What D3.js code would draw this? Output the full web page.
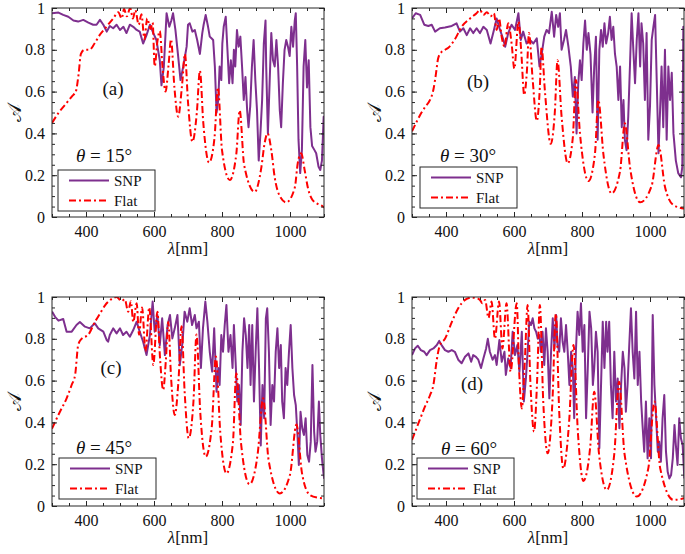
<!DOCTYPE html>
<html>
<head>
<meta charset="utf-8">
<script src="https://cdn.jsdelivr.net/npm/d3@7"></script>
<style>
html,body{margin:0;padding:0;background:#fff;}
svg{display:block;}
</style>
</head>
<body>
<svg id="chart" width="685" height="554"></svg>
<script>
// ---------- data ----------
const lambdaTicks = [400, 600, 800, 1000];
const lambdaTickLabels = ["400", "600", "800", "1000"];
const absTicks = [0, 0.2, 0.4, 0.6, 0.8, 1];
const absTickLabels = ["0", "0.2", "0.4", "0.6", "0.8", "1"];
const angles = ["15", "30", "45", "60"];
const panelLetters = ["(a)", "(b)", "(c)", "(d)"];
const seriesNames = ["SNP", "Flat"];

// theta = 15
const snpA = [[300,0.975],[319,0.978],[333,0.967],[348,0.958],[363,0.94],[377,0.935],[392,0.943],[407,0.93],[421,0.92],[431,0.92],[441,0.943],[451,0.92],[461,0.887],[470,0.914],[480,0.903],[490,0.92],[500,0.895],[510,0.91],[519,0.88],[529,0.92],[539,0.91],[549,0.895],[558,0.887],[568,0.83],[578,0.87],[588,0.92],[598,0.88],[607,0.847],[617,0.75],[622,0.63],[629,0.72],[637,0.975],[645,0.91],[651,0.94],[656,0.975],[663,0.895],[671,0.77],[678,0.655],[686,0.72],[696,0.815],[700,0.92],[705,0.927],[713,0.887],[720,0.895],[727,0.847],[735,0.78],[742,0.88],[746,0.92],[752,0.967],[759,0.91],[764,0.863],[769,0.855],[774,0.847],[779,0.72],[784,0.50],[789,0.56],[793,0.72],[798,0.655],[801,0.83],[805,0.91],[811,0.958],[816,0.80],[821,0.64],[826,0.75],[831,0.64],[835,0.80],[839,0.72],[844,0.895],[849,0.815],[854,0.863],[859,0.72],[864,0.56],[869,0.67],[874,0.51],[878,0.43],[883,0.53],[888,0.72],[893,0.847],[898,0.655],[903,0.51],[908,0.27],[913,0.40],[918,0.56],[923,0.83],[928,0.94],[930,0.72],[935,0.40],[940,0.64],[945,0.88],[950,0.75],[955,0.72],[960,0.847],[965,0.72],[970,0.51],[974,0.43],[979,0.64],[984,0.80],[989,0.847],[994,0.815],[999,0.77],[1004,0.91],[1009,0.815],[1014,0.94],[1017,0.975],[1021,0.72],[1025,0.37],[1030,0.21],[1035,0.32],[1040,0.72],[1045,0.847],[1050,0.62],[1055,0.75],[1060,0.43],[1065,0.34],[1072,0.32],[1077,0.305],[1084,0.24],[1089,0.225],[1094,0.27],[1099,0.48],[1101,0.46]];
const flatA = [[300,0.45],[320,0.50],[340,0.54],[360,0.58],[370,0.60],[378,0.68],[385,0.78],[395,0.80],[410,0.80],[425,0.83],[440,0.87],[460,0.91],[480,0.95],[495,0.98],[505,0.95],[512,0.995],[520,0.96],[530,1.0],[538,0.95],[545,0.99],[555,0.92],[563,0.97],[572,0.85],[580,0.95],[590,0.90],[596,0.93],[602,0.72],[610,0.84],[617,0.89],[625,0.72],[634,0.60],[643,0.73],[650,0.85],[660,0.62],[671,0.48],[683,0.64],[691,0.78],[700,0.55],[713,0.36],[726,0.50],[735,0.70],[745,0.45],[762,0.26],[778,0.38],[788,0.62],[800,0.32],[823,0.177],[842,0.30],[852,0.51],[865,0.25],[896,0.12],[916,0.24],[925,0.35],[934,0.40],[945,0.32],[955,0.19],[970,0.10],[989,0.07],[1014,0.14],[1023,0.26],[1033,0.305],[1043,0.225],[1053,0.137],[1067,0.08],[1097,0.05],[1101,0.045]];

// theta = 30
const snpB = [[300,0.95],[311,0.975],[324,0.967],[336,0.92],[348,0.914],[358,0.92],[368,0.887],[382,0.903],[397,0.907],[417,0.914],[431,0.927],[441,0.887],[451,0.903],[461,0.87],[471,0.903],[480,0.88],[490,0.903],[500,0.88],[510,0.91],[520,0.895],[531,0.83],[541,0.895],[549,0.95],[559,0.895],[569,0.847],[574,0.815],[583,0.88],[593,0.92],[603,0.895],[613,0.975],[620,0.847],[627,0.887],[637,0.83],[647,0.847],[657,0.83],[667,0.855],[675,0.72],[681,0.775],[689,0.863],[696,0.895],[703,0.88],[711,0.982],[718,0.863],[724,0.967],[730,0.91],[735,0.975],[740,0.80],[747,0.847],[753,0.895],[760,0.815],[767,0.72],[773,0.576],[779,0.67],[784,0.40],[789,0.64],[794,0.75],[799,0.655],[804,0.83],[809,0.94],[814,0.80],[819,0.88],[825,0.78],[831,0.50],[836,0.72],[841,0.863],[846,0.37],[851,0.80],[856,0.895],[861,0.815],[866,0.927],[871,0.83],[877,0.88],[882,0.958],[887,0.847],[892,0.91],[897,0.78],[902,0.72],[907,0.56],[912,0.72],[917,0.43],[922,0.56],[926,0.37],[931,0.32],[936,0.48],[941,0.72],[946,0.975],[951,0.80],[956,0.64],[961,0.847],[966,0.975],[971,0.72],[975,0.927],[980,0.83],[985,0.56],[990,0.88],[995,0.37],[1000,0.53],[1005,0.847],[1010,0.91],[1015,0.967],[1020,0.64],[1025,0.305],[1029,0.48],[1034,0.72],[1039,0.43],[1044,0.80],[1049,0.37],[1054,0.72],[1059,0.56],[1064,0.69],[1069,0.40],[1076,0.27],[1083,0.21],[1091,0.19],[1095,0.24],[1098,0.91],[1101,0.88]];
const flatB = [[300,0.41],[315,0.46],[328,0.50],[340,0.53],[353,0.56],[363,0.61],[370,0.68],[377,0.76],[387,0.79],[397,0.80],[407,0.81],[426,0.85],[446,0.91],[471,0.95],[490,0.975],[500,0.99],[510,0.967],[520,0.98],[531,0.96],[541,0.975],[549,0.895],[556,0.95],[564,0.86],[572,0.815],[583,0.927],[593,0.83],[601,0.71],[613,0.935],[621,0.80],[630,0.584],[638,0.70],[644,0.88],[655,0.655],[667,0.46],[676,0.62],[681,0.815],[691,0.60],[708,0.35],[720,0.50],[728,0.75],[740,0.48],[758,0.257],[773,0.38],[782,0.655],[794,0.40],[819,0.172],[838,0.30],[848,0.56],[863,0.30],[887,0.113],[912,0.22],[926,0.448],[941,0.24],[971,0.07],[1005,0.15],[1025,0.345],[1044,0.145],[1069,0.057],[1101,0.04]];

// theta = 45
const snpC = [[300,0.93],[309,0.905],[319,0.887],[333,0.895],[343,0.834],[358,0.834],[372,0.866],[382,0.88],[397,0.858],[411,0.85],[426,0.874],[436,0.85],[451,0.834],[461,0.794],[465,0.786],[470,0.818],[480,0.85],[490,0.826],[500,0.85],[509,0.818],[519,0.834],[529,0.81],[539,0.842],[549,0.882],[558,0.834],[568,0.786],[578,0.722],[588,0.818],[596,0.978],[602,0.834],[610,0.914],[617,0.77],[624,0.898],[632,0.722],[640,0.866],[647,0.914],[654,0.802],[661,0.85],[669,0.914],[676,0.675],[684,0.786],[690,0.93],[698,0.882],[705,0.946],[712,0.866],[720,0.914],[725,0.85],[732,0.882],[738,0.66],[744,0.85],[751,0.978],[757,0.882],[764,0.738],[771,0.643],[777,0.85],[784,0.547],[789,0.66],[793,0.579],[798,0.818],[803,0.738],[808,0.866],[813,0.962],[819,0.738],[825,0.818],[831,0.66],[835,0.866],[840,0.69],[845,0.50],[850,0.579],[855,0.388],[860,0.738],[865,0.898],[870,0.818],[875,0.66],[880,0.866],[884,0.579],[889,0.866],[894,0.50],[899,0.738],[904,0.946],[909,0.66],[914,0.29],[919,0.579],[924,0.42],[929,0.898],[933,0.946],[938,0.738],[943,0.388],[948,0.579],[953,0.50],[958,0.738],[963,0.85],[968,0.66],[973,0.77],[977,0.50],[982,0.42],[987,0.66],[992,0.579],[997,0.738],[1002,0.866],[1007,0.66],[1012,0.531],[1017,0.483],[1022,0.34],[1026,0.196],[1031,0.451],[1036,0.372],[1041,0.34],[1046,0.42],[1051,0.244],[1056,0.212],[1061,0.308],[1066,0.675],[1071,0.356],[1075,0.26],[1080,0.308],[1085,0.50],[1089,0.34],[1094,0.228],[1099,0.148],[1101,0.13]];
const flatC = [[300,0.37],[323,0.45],[343,0.515],[358,0.58],[368,0.627],[377,0.77],[387,0.80],[407,0.82],[426,0.88],[441,0.92],[456,0.96],[475,0.99],[490,1.0],[505,0.98],[514,0.99],[524,0.93],[532,0.98],[539,0.88],[549,0.97],[556,0.82],[565,0.95],[575,0.74],[586,0.95],[598,0.675],[610,0.93],[618,0.70],[627,0.555],[635,0.70],[642,0.88],[650,0.62],[661,0.435],[672,0.60],[681,0.86],[690,0.55],[702,0.324],[716,0.50],[725,0.82],[736,0.45],[752,0.236],[770,0.38],[782,0.715],[795,0.35],[813,0.156],[832,0.30],[842,0.635],[856,0.30],[881,0.104],[905,0.25],[921,0.515],[937,0.22],[970,0.06],[1000,0.15],[1019,0.39],[1035,0.16],[1058,0.053],[1080,0.04],[1101,0.037]];

// theta = 60
const snpD = [[300,0.722],[309,0.754],[317,0.767],[326,0.746],[336,0.738],[343,0.722],[353,0.746],[363,0.754],[373,0.77],[380,0.79],[387,0.77],[397,0.746],[407,0.738],[417,0.746],[426,0.738],[436,0.70],[446,0.683],[456,0.714],[466,0.73],[474,0.69],[480,0.722],[488,0.714],[495,0.70],[503,0.66],[510,0.706],[518,0.754],[523,0.80],[529,0.738],[537,0.70],[544,0.722],[549,0.675],[557,0.794],[564,0.69],[572,0.738],[576,0.627],[583,0.706],[590,0.66],[596,0.834],[603,0.722],[610,0.77],[616,0.643],[623,0.834],[629,0.50],[635,0.61],[640,0.738],[645,0.882],[650,0.866],[655,0.898],[660,0.85],[665,0.834],[670,0.80],[675,0.818],[679,0.738],[684,0.834],[689,0.675],[694,0.85],[699,0.738],[704,0.515],[709,0.738],[714,0.898],[719,0.754],[724,0.914],[728,0.77],[733,0.738],[738,0.898],[743,0.786],[748,0.738],[753,0.866],[758,0.738],[763,0.579],[768,0.738],[773,0.66],[777,0.42],[782,0.738],[787,0.93],[792,0.818],[797,0.97],[802,0.738],[807,0.866],[812,0.42],[817,0.66],[822,0.93],[827,0.85],[832,0.579],[836,0.66],[841,0.834],[846,0.738],[851,0.276],[856,0.579],[861,0.882],[866,0.66],[871,0.882],[875,0.738],[880,0.882],[885,0.579],[890,0.42],[895,0.738],[900,0.50],[905,0.61],[910,0.372],[915,0.579],[920,0.738],[925,0.66],[929,0.451],[934,0.579],[939,0.77],[944,0.946],[949,0.738],[954,0.61],[959,0.93],[964,0.579],[969,0.738],[974,0.50],[978,0.388],[983,0.26],[988,0.50],[993,0.228],[998,0.42],[1003,0.228],[1008,0.914],[1013,0.579],[1018,0.42],[1023,0.26],[1027,0.308],[1032,0.212],[1037,0.42],[1042,0.531],[1047,0.26],[1052,0.164],[1057,0.132],[1062,0.148],[1067,0.228],[1072,0.388],[1076,0.292],[1081,0.196],[1086,0.42],[1091,0.324],[1096,0.292],[1101,0.132]];
const flatD = [[300,0.316],[319,0.396],[338,0.475],[353,0.53],[363,0.58],[373,0.70],[382,0.77],[397,0.80],[417,0.88],[436,0.946],[456,0.986],[475,0.997],[490,0.994],[500,0.986],[507,0.97],[515,0.986],[525,0.90],[534,0.978],[544,0.80],[556,0.978],[566,0.754],[578,0.97],[590,0.643],[608,0.97],[615,0.65],[623,0.467],[632,0.70],[640,0.962],[648,0.60],[659,0.356],[668,0.60],[676,0.962],[686,0.50],[699,0.252],[713,0.50],[723,0.92],[733,0.45],[745,0.18],[762,0.40],[775,0.77],[788,0.35],[804,0.12],[824,0.28],[836,0.547],[850,0.25],[873,0.077],[895,0.25],[909,0.595],[925,0.25],[961,0.045],[995,0.18],[1013,0.50],[1030,0.18],[1069,0.029],[1101,0.037]];

const snpSeries = [snpA, snpB, snpC, snpD];
const flatSeries = [flatA, flatB, flatC, flatD];

// ---------- layout ----------
const svg = d3.select("#chart");
const purple = "#7E2F8E";
const red = "#FF0000";
const axisColor = "#262626";
const serif = "'Liberation Serif', 'Times New Roman', serif";
const dashDot = "7,3,2,3";

const frames = [
  {x0: 52, x1: 324, yT: 8, yB: 217, letter: [113, 88], theta: [104, 155], legend: [58, 170]},
  {x0: 412, x1: 684, yT: 8, yB: 217, letter: [478, 81], theta: [468, 155], legend: [420, 167]},
  {x0: 52, x1: 324, yT: 297, yB: 506, letter: [111, 367], theta: [104, 447], legend: [59, 458]},
  {x0: 412, x1: 684, yT: 297, yB: 506, letter: [472, 383], theta: [469, 448], legend: [417, 458]}
];

const minorX = d3.range(300, 1101, 50);
const minorY = d3.range(0, 1.0001, 0.05);

frames.forEach((f, i) => {
  const x = d3.scaleLinear().domain([300, 1100]).range([f.x0, f.x1]);
  const y = d3.scaleLinear().domain([0, 1]).range([f.yB, f.yT]);
  const g = svg.append("g");

  g.append("defs").append("clipPath").attr("id", "clip" + i)
    .append("rect").attr("x", f.x0).attr("y", f.yT)
    .attr("width", f.x1 - f.x0).attr("height", f.yB - f.yT);

  const plot = g.append("g").attr("clip-path", `url(#clip${i})`);

  const lineSnp = d3.line().x(d => x(d[0])).y(d => y(d[1])).curve(d3.curveLinear);
  const lineFlat = d3.line().x(d => x(d[0])).y(d => y(d[1])).curve(d3.curveMonotoneX);

  plot.append("path").datum(snpSeries[i]).attr("d", lineSnp)
    .attr("fill", "none").attr("stroke", purple).attr("stroke-width", 2)
    .attr("stroke-linejoin", "round");
  plot.append("path").datum(flatSeries[i]).attr("d", lineFlat)
    .attr("fill", "none").attr("stroke", red).attr("stroke-width", 2)
    .attr("stroke-dasharray", dashDot);

  // axes (ticks inside, mirrored)
  const styleAxis = sel => {
    sel.select(".domain").remove();
    sel.selectAll("line").attr("stroke", axisColor).attr("stroke-width", 1);
    sel.selectAll("text").attr("font-size", 16).attr("fill", "#111")
      .style("font-family", serif);
  };
  const fmt = (ticks, labels) => d => labels[ticks.indexOf(d)];

  g.append("g").attr("transform", `translate(0,${f.yB})`)
    .call(d3.axisBottom(x).tickValues(minorX).tickSize(-3).tickFormat("")).call(styleAxis);
  g.append("g").attr("transform", `translate(0,${f.yB})`)
    .call(d3.axisBottom(x).tickValues(lambdaTicks).tickSize(-5).tickPadding(9)
      .tickFormat(fmt(lambdaTicks, lambdaTickLabels))).call(styleAxis);
  g.append("g").attr("transform", `translate(0,${f.yT})`)
    .call(d3.axisTop(x).tickValues(minorX).tickSize(-3).tickFormat("")).call(styleAxis);
  g.append("g").attr("transform", `translate(0,${f.yT})`)
    .call(d3.axisTop(x).tickValues(lambdaTicks).tickSize(-5).tickFormat("")).call(styleAxis);

  g.append("g").attr("transform", `translate(${f.x0},0)`)
    .call(d3.axisLeft(y).tickValues(minorY).tickSize(-3).tickFormat("")).call(styleAxis);
  g.append("g").attr("transform", `translate(${f.x0},0)`)
    .call(d3.axisLeft(y).tickValues(absTicks).tickSize(-5).tickPadding(7)
      .tickFormat(fmt(absTicks, absTickLabels))).call(styleAxis);
  g.append("g").attr("transform", `translate(${f.x1},0)`)
    .call(d3.axisRight(y).tickValues(minorY).tickSize(-3).tickFormat("")).call(styleAxis);
  g.append("g").attr("transform", `translate(${f.x1},0)`)
    .call(d3.axisRight(y).tickValues(absTicks).tickSize(-5).tickFormat("")).call(styleAxis);

  g.append("rect").attr("x", f.x0).attr("y", f.yT)
    .attr("width", f.x1 - f.x0).attr("height", f.yB - f.yT)
    .attr("fill", "none").attr("stroke", axisColor).attr("stroke-width", 1);

  // axis titles
  const xl = g.append("text").attr("x", (f.x0 + f.x1) / 2).attr("y", f.yB + 37)
    .attr("text-anchor", "middle").attr("font-size", 17).attr("fill", "#111")
    .style("font-family", serif);
  xl.append("tspan").attr("font-style", "italic").text("λ");
  xl.append("tspan").text("[nm]");

  g.append("text").attr("transform", `translate(${f.x0 - 38},${(f.yT + f.yB) / 2}) rotate(-90)`)
    .attr("text-anchor", "middle").attr("dy", "0.35em").attr("font-size", 19).attr("fill", "#111")
    .style("font-family", serif)
    .text("𝒜");

  // annotations
  g.append("text").attr("x", f.letter[0]).attr("y", f.letter[1]).attr("dy", "0.35em")
    .attr("text-anchor", "middle").attr("font-size", 19).attr("fill", "#111")
    .style("font-family", serif).text(panelLetters[i]);

  const th = g.append("text").attr("x", f.theta[0]).attr("y", f.theta[1]).attr("dy", "0.35em")
    .attr("text-anchor", "middle").attr("font-size", 19).attr("fill", "#111")
    .style("font-family", serif);
  th.append("tspan").attr("font-style", "italic").text("θ");
  th.append("tspan").text(" = " + angles[i] + "°");

  // legend
  const [lx, ly] = f.legend;
  const lg = g.append("g").attr("transform", `translate(${lx},${ly})`);
  lg.append("rect").attr("x", 0).attr("y", 0).attr("width", 97).attr("height", 41)
    .attr("fill", "#fff").attr("stroke", axisColor).attr("stroke-width", 1);
  lg.append("line").attr("x1", 11).attr("x2", 51).attr("y1", 10.5).attr("y2", 10.5)
    .attr("stroke", purple).attr("stroke-width", 2);
  lg.append("line").attr("x1", 11).attr("x2", 51).attr("y1", 30.5).attr("y2", 30.5)
    .attr("stroke", red).attr("stroke-width", 2).attr("stroke-dasharray", dashDot);
  lg.append("text").attr("x", 56).attr("y", 10.5).attr("dy", "0.35em").attr("font-size", 15)
    .attr("fill", "#111").style("font-family", serif).text(seriesNames[0]);
  lg.append("text").attr("x", 56).attr("y", 30.5).attr("dy", "0.35em").attr("font-size", 15)
    .attr("fill", "#111").style("font-family", serif).text(seriesNames[1]);
});
</script>
</body>
</html>
